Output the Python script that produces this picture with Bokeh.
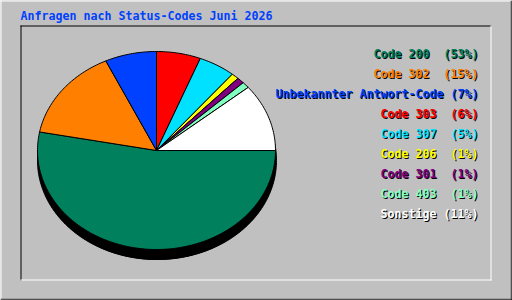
import numpy as np
from bokeh.plotting import figure
from bokeh.models import Range1d, ColumnDataSource
from bokeh.embed import file_html
from bokeh.resources import INLINE
from bokeh.core.properties import value

# ---------------- data ----------------
title = "Anfragen nach Status-Codes Juni 2026"
labels = ["Code 200 ", "Code 302 ", "Unbekannter Antwort-Code", "Code 303 ",
          "Code 307 ", "Code 206 ", "Code 301 ", "Code 403 ", "Sonstige"]
percents = [53, 15, 7, 6, 5, 1, 1, 1, 11]
colors = ["#00805c", "#ff8000", "#0040ff", "#ff0000", "#00e0ff",
          "#ffff00", "#800080", "#80ffc0", "#ffffff"]

# ---------------- layout ----------------
W, H = 512, 300
BG = "#c0c0c0"
FONT = value("DejaVu Sans Mono")
FSIZE = "11.63px"
CW = 7.0  # character advance in px

p = figure(width=W, height=H, x_range=Range1d(0, W), y_range=Range1d(H, 0),
           output_backend="svg", toolbar_location=None, min_border=0,
           x_axis_type=None, y_axis_type=None,
           background_fill_color=BG, border_fill_color=BG,
           outline_line_color=None)
p.grid.visible = False

# frame (raised outer border, sunken inner panel)
p.segment(x0=[0, 0.5], y0=[0.5, 0], x1=[W, 0.5], y1=[0.5, H], line_color="white", line_width=1)
p.segment(x0=[W - 1.5, 0], y0=[0, H - 1.5], x1=[W - 1.5, W], y1=[H, H - 1.5], line_color="#808080", line_width=1)
p.segment(x0=[W - 0.5, 0], y0=[0, H - 0.5], x1=[W - 0.5, W], y1=[H, H - 0.5], line_color="black", line_width=1)
p.segment(x0=[20, 20.5], y0=[25.5, 25], x1=[491, 20.5], y1=[25.5, 280], line_color="black", line_width=1)
p.segment(x0=[20, 490.5], y0=[279.5, 25], x1=[491, 490.5], y1=[279.5, 280], line_color="white", line_width=1)

# title
p.text(x=[20], y=[15], text=[title], text_color="#0040ff", text_font=FONT,
       text_font_style="bold", text_font_size=FSIZE, text_align="left",
       text_baseline="middle")

# ---------------- pie ----------------
cx, cy, rx, ry, depth = 156.0, 150.0, 119.0, 99.0, 10.0
tt = np.linspace(0, 2 * np.pi, 361)
# shadow / side
p.patch(x=list(cx + 1 + rx * np.cos(tt)), y=list(cy + depth + ry * np.sin(tt)), fill_color="black", line_color="black")
half = np.linspace(0, np.pi, 181)
sx = list(cx + rx * np.cos(half)) + list(cx + rx * np.cos(half[::-1]))
sy = list(cy + ry * np.sin(half)) + list(cy + depth + ry * np.sin(half[::-1]))
p.patch(x=sx, y=sy, fill_color="black", line_color="black")

bounds = np.concatenate([[0], np.cumsum(percents)]) / sum(percents) * 2 * np.pi
xs, ys = [], []
for a0, a1 in zip(bounds[:-1], bounds[1:]):
    n = max(3, int(np.degrees(a1 - a0)))
    t = np.linspace(a0, a1, n)
    xs.append([cx] + list(cx + rx * np.cos(t)))
    ys.append([cy] + list(cy + ry * np.sin(t)))
p.patches(xs=xs, ys=ys, fill_color=colors, line_color="black", line_width=1)

# ---------------- legend ----------------
RIGHT = 478.0
tx, ty, tt_, tc = [], [], [], []
for i, (lab, pc, col) in enumerate(zip(labels, percents, colors)):
    full = f"{lab} ({pc}%)"
    pct_part = f"({pc}%)"
    lab_part = full[:-len(pct_part)].rstrip()
    y = 53.5 + 20 * i
    tx += [RIGHT, RIGHT - CW * (len(full) - len(lab_part))]
    ty += [y, y]
    tt_ += [pct_part, lab_part]
    tc += [col, col]
src = ColumnDataSource(dict(x=tx, y=ty, sx=[v + 1 for v in tx], sy=[v + 1 for v in ty],
                            text=tt_, color=tc))
p.text(x="sx", y="sy", text="text", source=src, text_color="black", text_font=FONT,
       text_font_style="bold", text_font_size=FSIZE, text_align="right",
       text_baseline="middle")
p.text(x="x", y="y", text="text", source=src, text_color="color", text_font=FONT,
       text_font_style="bold", text_font_size=FSIZE, text_align="right",
       text_baseline="middle")

open("out.html", "w").write(file_html(p, INLINE))
